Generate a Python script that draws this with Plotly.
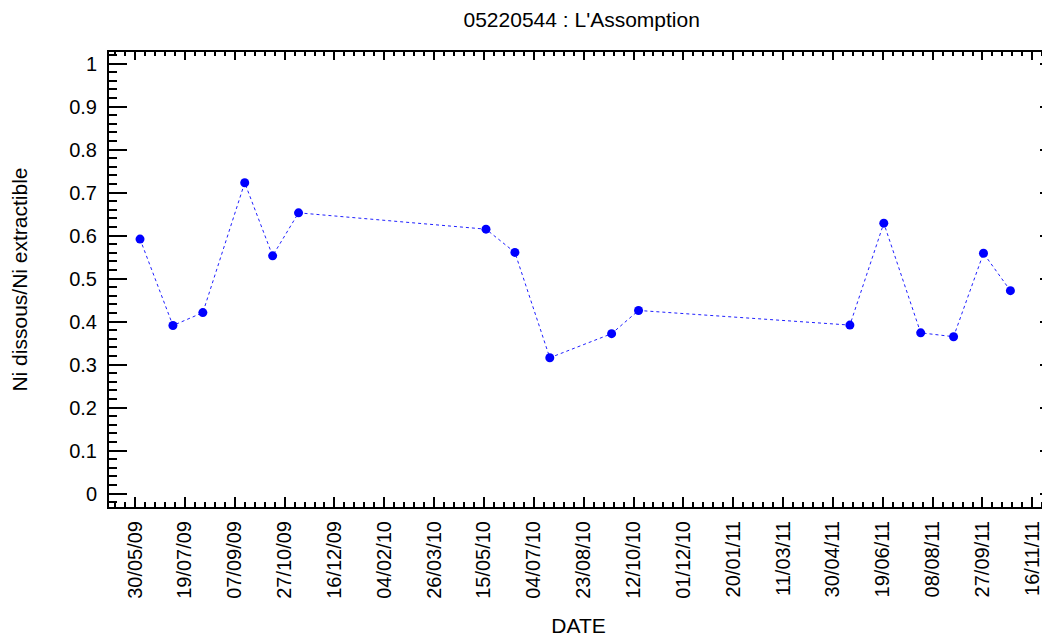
import plotly.graph_objects as go

dates = ["2009-06-04", "2009-07-07", "2009-08-06", "2009-09-17", "2009-10-15", "2009-11-10",
         "2010-05-17", "2010-06-15", "2010-07-20", "2010-09-20", "2010-10-17",
         "2011-05-17", "2011-06-20", "2011-07-27", "2011-08-29", "2011-09-28", "2011-10-25"]
values = [0.592, 0.391, 0.421, 0.723, 0.553, 0.653,
          0.615, 0.561, 0.316, 0.372, 0.426,
          0.392, 0.629, 0.374, 0.365, 0.559, 0.472]

x_tickvals = ["2009-05-30", "2009-07-19", "2009-09-07", "2009-10-27", "2009-12-16", "2010-02-04",
              "2010-03-26", "2010-05-15", "2010-07-04", "2010-08-23", "2010-10-12", "2010-12-01",
              "2011-01-20", "2011-03-11", "2011-04-30", "2011-06-19", "2011-08-08", "2011-09-27",
              "2011-11-16"]
x_ticktext = ["30/05/09", "19/07/09", "07/09/09", "27/10/09", "16/12/09", "04/02/10",
              "26/03/10", "15/05/10", "04/07/10", "23/08/10", "12/10/10", "01/12/10",
              "20/01/11", "11/03/11", "30/04/11", "19/06/11", "08/08/11", "27/09/11",
              "16/11/11"]
y_tickvals = [0, 0.1, 0.2, 0.3, 0.4, 0.5, 0.6, 0.7, 0.8, 0.9, 1]
y_ticktext = ["0", "0.1", "0.2", "0.3", "0.4", "0.5", "0.6", "0.7", "0.8", "0.9", "1"]

x_range = ["2009-05-03 21:00", "2011-12-01 17:00"]
y_range = [-0.031, 1.027]
DAY_MS = 86400000

fig = go.Figure()
fig.add_trace(go.Scatter(
    x=dates, y=values, mode="lines+markers",
    line=dict(color="#2020ff", width=1, dash="dot"),
    marker=dict(color="#0000ff", size=9),
    showlegend=False,
))
# invisible trace to activate overlay axes (top / right frame)
fig.add_trace(go.Scatter(x=[dates[0]], y=[values[0]], xaxis="x2", yaxis="y2",
                         mode="markers", marker=dict(opacity=0), showlegend=False,
                         hoverinfo="skip"))

font = "Liberation Sans, Arial, sans-serif"
fig.update_layout(
    width=1042, height=629,
    margin=dict(l=101, r=2, t=44, b=130, autoexpand=False),
    paper_bgcolor="white", plot_bgcolor="white",
    title=dict(text="05220544 : L'Assomption", xref="paper", x=0.5034, xanchor="center",
               y=0.981, yanchor="middle",
               font=dict(family=font, size=21, color="black")),
    font=dict(family=font, color="black"),
    xaxis=dict(
        type="date", range=x_range, tickmode="array", tickvals=x_tickvals, ticktext=x_ticktext,
        tickangle=-90, tickfont=dict(size=20), ticks="inside", ticklen=10, tickwidth=2,
        tickcolor="black", showline=True, linecolor="black", linewidth=2, showgrid=False,
        zeroline=False, ticklabelstandoff=4, automargin=False,
        minor=dict(tickmode="linear", tick0="2009-05-30", dtick=10 * DAY_MS, ticks="inside",
                   ticklen=5, tickwidth=1.5, tickcolor="black", showgrid=False),
        title=dict(text="DATE", font=dict(size=21), standoff=21),
    ),
    yaxis=dict(
        range=y_range, tickmode="array", tickvals=y_tickvals, ticktext=y_ticktext,
        tickfont=dict(size=20), ticks="inside", ticklen=18, tickwidth=2, tickcolor="black",
        showline=True, linecolor="black", linewidth=2, showgrid=False, zeroline=False,
        ticklabelstandoff=6, automargin=False,
        minor=dict(tickmode="linear", tick0=0, dtick=0.02, ticks="inside", ticklen=8,
                   tickwidth=2, tickcolor="black", showgrid=False),
        title=dict(text="Ni dissous/Ni extractible", font=dict(size=21), standoff=38),
    ),
    xaxis2=dict(
        type="date", range=x_range, overlaying="x", side="top", tickmode="array",
        tickvals=x_tickvals, showticklabels=False, ticks="inside", ticklen=8, tickwidth=2,
        tickcolor="black", showline=True, linecolor="black", linewidth=2, showgrid=False,
        zeroline=False,
        minor=dict(tickmode="linear", tick0="2009-05-30", dtick=10 * DAY_MS, ticks="inside",
                   ticklen=4, tickwidth=1.5, tickcolor="black", showgrid=False),
    ),
    yaxis2=dict(
        range=y_range, overlaying="y", side="right", tickmode="array", tickvals=y_tickvals,
        showticklabels=False, ticks="inside", ticklen=8, tickwidth=2, tickcolor="black",
        showline=True, linecolor="black", linewidth=2, showgrid=False, zeroline=False,
        minor=dict(tickmode="linear", tick0=0, dtick=0.02, ticks="inside", ticklen=2,
                   tickwidth=1.5, tickcolor="black", showgrid=False),
    ),
)

fig.write_html("out.html")
